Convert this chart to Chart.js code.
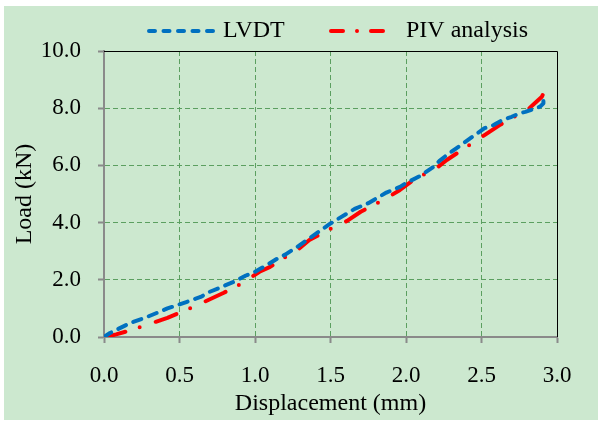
<!DOCTYPE html>
<html>
<head>
<meta charset="utf-8">
<script src="https://cdn.jsdelivr.net/npm/chart.js@4.4.0/dist/chart.umd.min.js"></script>
<style>
  html, body { margin: 0; padding: 0; background: #ffffff; }
</style>
</head>
<body>
<canvas id="loadChart" width="598" height="421"></canvas>
<script>
// ----------------------------------------
// Load vs displacement: LVDT and PIV
// ----------------------------------------

// LVDT readings (displacement in mm, load in kN)
const lvdtX = [0, 0.04, 0.09, 0.17, 0.29, 0.42, 0.49, 0.55, 0.64, 0.7, 0.77, 0.86, 0.94, 1.0, 1.04,
  1.08, 1.15, 1.2, 1.28, 1.36, 1.5, 1.61, 1.66, 1.75, 1.87, 1.96, 2.0, 2.1, 2.18, 2.22, 2.27, 2.35,
  2.44, 2.52, 2.58, 2.64, 2.7, 2.75, 2.79, 2.84, 2.89, 2.91, 2.91, 2.9];
const lvdtY = [0, 0.14, 0.27, 0.48, 0.71, 1.0, 1.12, 1.23, 1.4, 1.58, 1.73, 1.93, 2.15, 2.28, 2.4,
  2.52, 2.75, 2.88, 3.15, 3.45, 3.97, 4.32, 4.48, 4.68, 5.05, 5.25, 5.38, 5.65, 5.94, 6.15, 6.36, 6.66,
  7.0, 7.3, 7.41, 7.59, 7.7, 7.82, 7.87, 7.96, 8.06, 8.17, 8.29, 8.4];

// PIV analysis readings
const pivX = [0, 0.04, 0.08, 0.18, 0.28, 0.42, 0.52, 0.62, 0.79, 0.87, 0.95, 1.03, 1.1, 1.2, 1.29,
  1.36, 1.52, 1.61, 1.7, 1.86, 1.96, 2.05, 2.2, 2.27, 2.44, 2.52, 2.62, 2.72, 2.8, 2.84, 2.9, 2.905];
const pivY = [0, 0.04, 0.09, 0.24, 0.42, 0.67, 0.89, 1.12, 1.54, 1.75, 2.0, 2.28, 2.45, 2.79, 3.08,
  3.39, 3.84, 4.06, 4.38, 4.82, 5.14, 5.49, 5.9, 6.19, 6.78, 7.06, 7.41, 7.71, 7.92, 8.11, 8.4, 8.46];

const seriesLabels = ['LVDT', 'PIV analysis'];
const xTicks = [0, 0.5, 1.0, 1.5, 2.0, 2.5, 3.0];
const yTicks = [0, 2, 4, 6, 8, 10];

const BG_GREEN = '#cce8cf';
const GRID_GREEN = '#5b9f60';
const AXIS_GREY = '#8a8a8a';
const SERIF = '"Liberation Serif", "Times New Roman", serif';

const toPoints = (xs, ys) => xs.map((x, i) => ({ x: x, y: ys[i] }));

// legend placement (line start, line end, text x) and legend dash patterns
const legendPos = [
  { x1: 149, x2: 214, tx: 223, dash: [6, 8.5] },
  { x1: 331, x2: 387, tx: 406, dash: [12, 14, 0, 14] }
];

// background, black top/right frame and the legend
const framePlugin = {
  id: 'frame',
  beforeDraw(chart) {
    const { ctx, width, height } = chart;
    ctx.save();
    ctx.fillStyle = '#ffffff';
    ctx.fillRect(0, 0, width, height);
    ctx.fillStyle = BG_GREEN;
    ctx.fillRect(4, 6, width - 4, height - 7);
    ctx.restore();
  },
  beforeDatasetsDraw(chart) {
    const { ctx, chartArea: a } = chart;
    ctx.save();
    ctx.strokeStyle = '#000000';
    ctx.lineWidth = 1;
    ctx.beginPath();
    ctx.moveTo(a.left, Math.round(a.top) + 0.5);
    ctx.lineTo(Math.round(a.right) + 0.5, Math.round(a.top) + 0.5);
    ctx.lineTo(Math.round(a.right) + 0.5, a.bottom);
    ctx.stroke();
    ctx.restore();
  },
  afterDraw(chart) {
    const { ctx } = chart;
    const y = 31;
    chart.data.datasets.forEach((ds, i) => {
      const p = legendPos[i];
      ctx.save();
      ctx.strokeStyle = ds.borderColor;
      ctx.lineWidth = ds.borderWidth;
      ctx.lineCap = 'round';
      ctx.setLineDash(p.dash);
      ctx.beginPath();
      ctx.moveTo(p.x1, y);
      ctx.lineTo(p.x2, y);
      ctx.stroke();
      ctx.setLineDash([]);
      ctx.fillStyle = '#000000';
      ctx.font = '24px ' + SERIF;
      ctx.textBaseline = 'middle';
      ctx.textAlign = 'left';
      ctx.fillText(ds.label, p.tx, y);
      ctx.restore();
    });
  }
};

const hideEdges = (ctx) => (ctx.index === 0 || ctx.index === ctx.scale.ticks.length - 1) ? 'rgba(0,0,0,0)' : GRID_GREEN;

new Chart(document.getElementById('loadChart'), {
  type: 'scatter',
  data: {
    datasets: [
      {
        label: seriesLabels[0],
        data: toPoints(lvdtX, lvdtY),
        showLine: true,
        borderColor: '#0070c0',
        backgroundColor: '#0070c0',
        borderWidth: 4,
        borderDash: [8.5, 8],
        borderCapStyle: 'round',
        borderJoinStyle: 'round',
        pointRadius: 0
      },
      {
        label: seriesLabels[1],
        data: toPoints(pivX, pivY),
        showLine: true,
        borderColor: '#ff0000',
        backgroundColor: '#ff0000',
        borderWidth: 4,
        borderDash: [22, 15, 0, 17],
        borderCapStyle: 'round',
        borderJoinStyle: 'round',
        pointRadius: 0
      }
    ]
  },
  options: {
    responsive: false,
    animation: false,
    devicePixelRatio: 1,
    layout: { padding: { top: 51, right: 41, left: 0, bottom: 0 } },
    plugins: {
      legend: { display: false },
      tooltip: { enabled: false }
    },
    scales: {
      x: {
        type: 'linear',
        min: 0,
        max: 3,
        afterBuildTicks: (scale) => { scale.ticks = xTicks.map(v => ({ value: v })); },
        afterFit: (scale) => { scale.height = 84; },
        ticks: {
          color: '#000000',
          font: { family: SERIF, size: 23 },
          padding: 19,
          maxRotation: 0,
          callback: (v) => Number(v).toFixed(1)
        },
        grid: {
          color: hideEdges,
          lineWidth: 1,
          tickColor: AXIS_GREY,
          tickLength: 6,
          tickWidth: 2,
          tickBorderDash: []
        },
        border: { color: AXIS_GREY, width: 2, dash: [5, 3] },
        title: {
          display: true,
          text: 'Displacement (mm)',
          color: '#000000',
          font: { family: SERIF, size: 24 },
          padding: 3
        }
      },
      y: {
        type: 'linear',
        min: 0,
        max: 10,
        afterBuildTicks: (scale) => { scale.ticks = yTicks.map(v => ({ value: v })); },
        afterFit: (scale) => { scale.width = 104; },
        ticks: {
          color: '#000000',
          font: { family: SERIF, size: 23 },
          padding: 17,
          callback: (v) => Number(v).toFixed(1)
        },
        grid: {
          color: hideEdges,
          lineWidth: 1,
          tickColor: AXIS_GREY,
          tickLength: 6,
          tickWidth: 2,
          tickBorderDash: []
        },
        border: { color: AXIS_GREY, width: 2, dash: [5, 3] },
        title: {
          display: true,
          text: 'Load (kN)',
          color: '#000000',
          font: { family: SERIF, size: 24 },
          padding: 10
        }
      }
    }
  },
  plugins: [framePlugin]
});
</script>
</body>
</html>
